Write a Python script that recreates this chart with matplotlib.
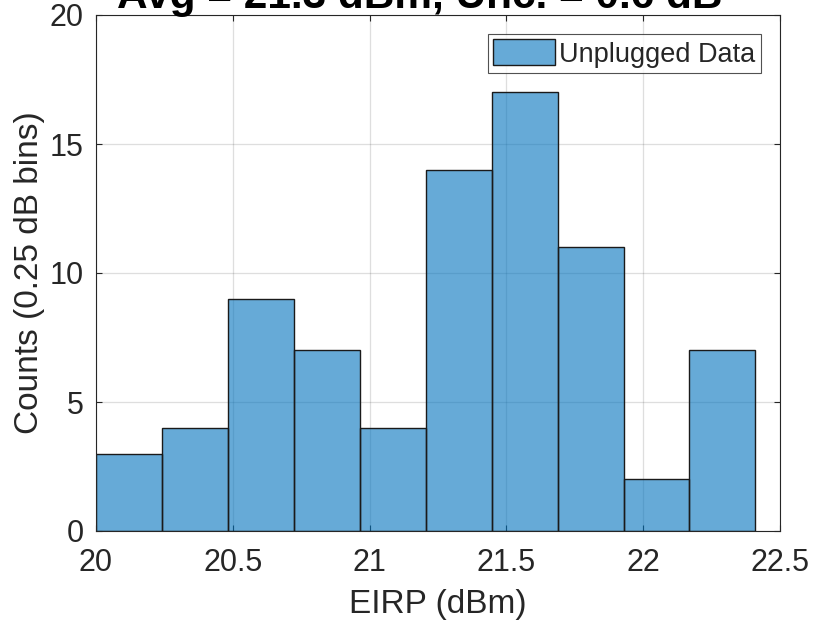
import numpy as np
import matplotlib
matplotlib.use("Agg")
import matplotlib.pyplot as plt

plt.rcParams['font.family'] = ['Liberation Sans', 'DejaVu Sans']

# Histogram of unplugged EIRP measurements
bin_edges = [20.0, 20.241, 20.482, 20.723, 20.964, 21.205, 21.446, 21.687, 21.928, 22.169, 22.41]
counts = [3, 4, 9, 7, 4, 14, 17, 11, 2, 7]
x_ticks = [20, 20.5, 21, 21.5, 22, 22.5]
x_tick_labels = ["20", "20.5", "21", "21.5", "22", "22.5"]
y_ticks = [0, 5, 10, 15, 20]
title_text = "Avg = 21.3 dBm, Unc. = 0.6 dB"

W, H = 815, 624
fig = plt.figure(figsize=(W / 100, H / 100), dpi=100)
ax = fig.add_axes([96 / W, 1 - 531 / H, (780 - 96) / W, (531 - 15) / H])

edges = np.array(bin_edges)
ax.bar(edges[:-1], counts, width=np.diff(edges), align='edge',
       color='#0072BD', alpha=0.6, edgecolor='none', zorder=2)
ax.bar(edges[:-1], counts, width=np.diff(edges), align='edge',
       facecolor='none', edgecolor='#1a1a1a', linewidth=1.0, zorder=3)

ax.set_xlim(20, 22.5)
ax.set_ylim(0, 20)
ax.set_xticks(x_ticks)
ax.set_xticklabels(x_tick_labels)
ax.set_yticks(y_ticks)

tick_color = '#262626'
ax.tick_params(axis='both', labelsize=22, colors=tick_color, direction='in',
               length=4, width=0.8, top=True, right=True)
ax.tick_params(axis='y', pad=9)
ax.tick_params(axis='x', pad=12)
for s in ax.spines.values():
    s.set_color('#262626')
    s.set_linewidth(0.8)
    s.set_zorder(5)

# grid drawn over the bars, semi-transparent
ax.grid(True, color='#262626', alpha=0.15, linewidth=0.9)
for gl in ax.get_xgridlines() + ax.get_ygridlines():
    gl.set_zorder(4)

ax.set_xlabel('EIRP (dBm)', fontsize=24, color=tick_color, labelpad=8)
ax.set_ylabel('Counts (0.25 dB bins)', fontsize=24, color=tick_color, labelpad=3)

# title sits at the top edge of the figure
fig.text(420 / W, 1 - 8 / H, title_text, fontsize=30.5, fontweight='bold',
         color='black', ha='center', va='baseline')

# Legend with a box-shaped patch
handle = plt.Rectangle((0, 0), 1, 1, facecolor='#66AAD7', edgecolor='#1a1a1a', linewidth=1.0)
leg = ax.legend([handle], ['Unplugged Data'], loc='upper right', fontsize=19.5,
                frameon=True, fancybox=False, edgecolor='#262626',
                borderpad=0.2, handlelength=2.3, handleheight=1.1,
                handletextpad=0.15, borderaxespad=0.7)
leg.get_frame().set_linewidth(0.8)
leg.set_zorder(6)
for t in leg.get_texts():
    t.set_color(tick_color)

fig.savefig('out.png', dpi=100, facecolor='white')
